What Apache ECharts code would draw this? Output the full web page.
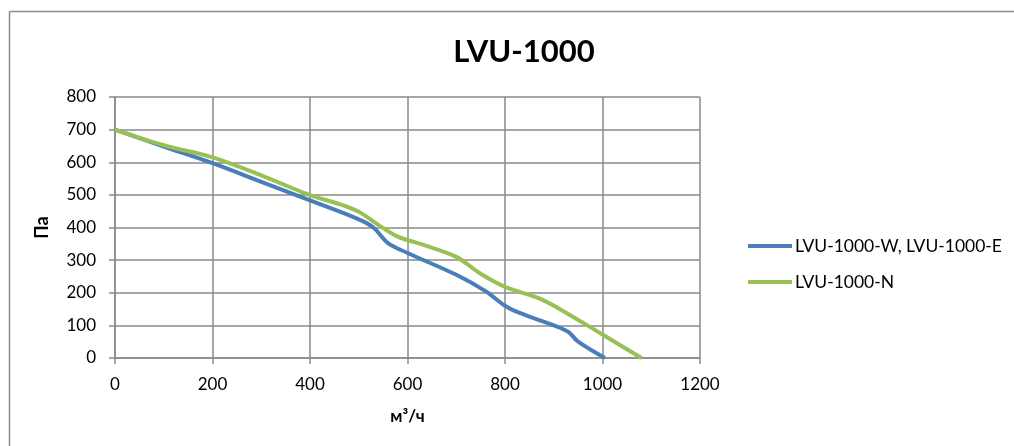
<!DOCTYPE html>
<html>
<head>
<meta charset="utf-8">
<script src="https://cdn.jsdelivr.net/npm/echarts@6/dist/echarts.min.js"></script>
<style>
html,body{margin:0;padding:0;background:#fff;}
#c{width:1014px;height:446px;}
</style>
</head>
<body>
<div id="c"></div>
<script>
var titleText = 'LVU-1000';
var seriesNames = ['LVU-1000-W, LVU-1000-E', 'LVU-1000-N'];
var xTicks = [0, 200, 400, 600, 800, 1000, 1200];
var yTicks = [0, 100, 200, 300, 400, 500, 600, 700, 800];
var xName = 'м³/ч';
var yName = 'Па';

var seriesWE = [[0,700],[100,648],[200,597],[300,540],[400,483],[500,425],[530,400],[560,352],[600,322],[700,255],[760,205],[800,160],[830,138],[900,100],[930,80],[950,50],[1005,0]];
var seriesN = [[0,700],[100,652],[200,615],[300,560],[400,499],[460,472],[500,448],[540,408],[580,372],[630,348],[700,310],[750,258],[800,218],[870,183],[910,152],[1000,72],[1080,0]];

var font = 'Lato';
var gridColor = '#8a8a8a';
var chart = echarts.init(document.getElementById('c'));
chart.setOption({
  animation: false,
  backgroundColor: '#fff',
  title: {
    text: titleText, left: 519, top: 31, textAlign: 'center',
    textStyle: {fontFamily: font, fontWeight: 'bold', fontSize: 31, color: '#000'}
  },
  graphic: [
    {type: 'line', shape: {x1: 9.5, y1: 11.5, x2: 1014, y2: 11.5}, style: {stroke: '#8c8c8c', lineWidth: 1.5}},
    {type: 'line', shape: {x1: 9.5, y1: 11.5, x2: 9.5, y2: 446}, style: {stroke: '#8c8c8c', lineWidth: 1.5}}
  ],
  legend: {
    orient: 'vertical', left: 748, top: 237, padding: 0, itemWidth: 44, itemHeight: 4, itemGap: 18,
    icon: 'rect',
    textStyle: {fontFamily: font, fontSize: 17.5, color: '#000', padding: [0,0,0,-2]},
    data: seriesNames
  },
  grid: {left: 115, top: 97, width: 585, height: 261, containLabel: false},
  xAxis: {
    type: 'value', min: xTicks[0], max: xTicks[xTicks.length-1], interval: 200,
    name: xName, nameLocation: 'middle', nameGap: 50,
    nameTextStyle: {fontFamily: font, fontWeight: 'bold', fontSize: 17, color: '#000'},
    axisLine: {lineStyle: {color: gridColor, width: 1.5}},
    axisTick: {show: true, length: 6, lineStyle: {color: gridColor, width: 1.5}},
    axisLabel: {fontFamily: font, fontSize: 17, color: '#000', margin: 18, formatter: function (v) { return String(v); }},
    splitLine: {show: true, lineStyle: {color: gridColor, width: 1.5}}
  },
  yAxis: {
    type: 'value', min: yTicks[0], max: yTicks[yTicks.length-1], interval: 100,
    name: yName, nameLocation: 'middle', nameGap: 64, nameRotate: 90,
    nameTextStyle: {fontFamily: font, fontWeight: 'bold', fontSize: 18, color: '#000'},
    axisLine: {show: true, lineStyle: {color: gridColor, width: 1.5}},
    axisTick: {show: true, length: 6, lineStyle: {color: gridColor, width: 1.5}},
    axisLabel: {fontFamily: font, fontSize: 17, color: '#000', margin: 19, formatter: function (v) { return String(v); }},
    splitLine: {show: true, lineStyle: {color: gridColor, width: 1.5}}
  },
  series: [
    {name: seriesNames[0], type: 'line', data: seriesWE, smooth: 0.35, showSymbol: false,
     lineStyle: {width: 4, color: '#4A7EBB'}, itemStyle: {color: '#4A7EBB'}},
    {name: seriesNames[1], type: 'line', data: seriesN, smooth: 0.35, showSymbol: false,
     lineStyle: {width: 4, color: '#98C054'}, itemStyle: {color: '#98C054'}}
  ]
});
</script>
</body>
</html>
